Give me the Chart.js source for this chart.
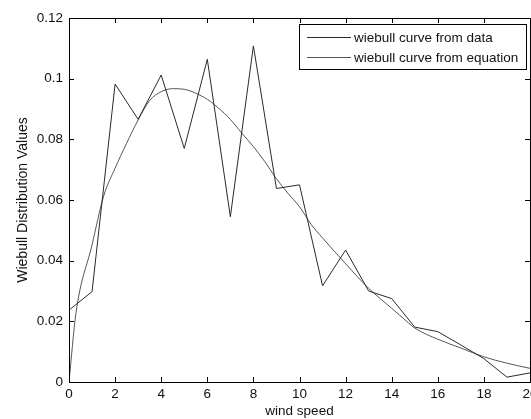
<!DOCTYPE html>
<html>
<head>
<meta charset="utf-8">
<script src="https://cdn.jsdelivr.net/npm/chart.js@4"></script>
<style>
    body { margin: 0; background: #fff; }
</style>
</head>
<body>
<canvas id="my-chart" width="531" height="419"></canvas>
<script>
// * wind speed vs weibull distribution, data curve and fitted equation

// measured curve, one value per wind speed
const speedData = [0, 1, 2, 3, 4, 5, 6, 7, 8, 9, 10, 11, 12, 13, 14, 15, 16, 17, 18, 19, 20]
const weibullData = [0.0237, 0.0298, 0.0982, 0.0866, 0.1012, 0.0770, 0.1064, 0.0545, 0.1108, 0.0638, 0.0650,
    0.0317, 0.0435, 0.0300, 0.0275, 0.0181, 0.0166, 0.0122, 0.0077, 0.0016, 0.0030]

// curve from equation
const speedEquation = [0, 0.3, 1, 1.5, 2, 2.5, 3, 3.5, 4, 4.5, 5, 5.5, 6, 6.5, 7, 7.5, 8, 8.5, 9, 9.5, 10,
    10.5, 11, 11.5, 12, 12.5, 13, 13.5, 14, 14.5, 15, 16, 17, 18, 19, 20]
const weibullEquation = [0, 0.0226, 0.0452, 0.0612, 0.0705, 0.0787, 0.0864, 0.0928, 0.0957, 0.0967, 0.0965,
    0.0952, 0.0932, 0.0902, 0.0866, 0.0820, 0.0776, 0.0726, 0.0670, 0.0622, 0.0578, 0.0520, 0.0475, 0.0432,
    0.0390, 0.0348, 0.0309, 0.0275, 0.0243, 0.0210, 0.0178, 0.0141, 0.0112, 0.0083, 0.0062, 0.0045]

const xTicks = [0, 2, 4, 6, 8, 10, 12, 14, 16, 18, 20]
const yTicks = [0, 0.02, 0.04, 0.06, 0.08, 0.1, 0.12]

const seriesNames = ['wiebull curve from data', 'wiebull curve from equation']
const seriesColors = ['#2a2a2a', '#555555']

const ctx = document.getElementById('my-chart')
const family = '"Liberation Sans", Arial, sans-serif'
const font = { family: family, size: 13.5 }
const yTitleFont = { family: family, size: 14 }

// matlab style: box around the axes, ticks pointing inside, legend box top right
const matlabBox = {
    id: 'matlabBox',
    afterDraw(chart) {
        const c = chart.ctx
        const a = chart.chartArea
        const x = chart.scales.x
        const y = chart.scales.y
        c.save()
        c.strokeStyle = '#000'
        c.lineWidth = 1
        c.strokeRect(a.left + 0.5, a.top + 0.5, a.right - a.left, a.bottom - a.top)
        c.beginPath()
        xTicks.forEach((v) => {
            const px = Math.round(x.getPixelForValue(v)) + 0.5
            c.moveTo(px, a.bottom); c.lineTo(px, a.bottom - 5)
            c.moveTo(px, a.top); c.lineTo(px, a.top + 5)
        })
        yTicks.forEach((v) => {
            const py = Math.round(y.getPixelForValue(v)) + 0.5
            c.moveTo(a.left, py); c.lineTo(a.left + 5, py)
            c.moveTo(a.right, py); c.lineTo(a.right - 5, py)
        })
        c.stroke()

        // legend
        const lx = 299, ly = 24, lw = 227, lh = 45
        c.fillStyle = '#fff'
        c.fillRect(lx, ly, lw, lh)
        c.strokeRect(lx + 0.5, ly + 0.5, lw, lh)
        c.font = font.size + 'px ' + font.family
        c.textBaseline = 'middle'
        chart.data.datasets.forEach((ds, i) => {
            const rowY = 37.5 + i * 20
            c.strokeStyle = ds.borderColor
            c.beginPath()
            c.moveTo(307, rowY); c.lineTo(351, rowY)
            c.stroke()
            c.fillStyle = '#111'
            c.fillText(ds.label, 354, rowY + 1)
        })
        c.restore()
    }
}

new Chart(ctx, {
    type: 'line',
    data: {
        datasets: [
            {
                label: seriesNames[0],
                data: speedData.map((s, i) => ({ x: s, y: weibullData[i] })),
                borderColor: seriesColors[0],
                borderWidth: 1,
                pointRadius: 0,
                tension: 0
            },
            {
                label: seriesNames[1],
                data: speedEquation.map((s, i) => ({ x: s, y: weibullEquation[i] })),
                borderColor: seriesColors[1],
                borderWidth: 1,
                pointRadius: 0,
                cubicInterpolationMode: 'monotone'
            }
        ]
    },
    options: {
        responsive: false,
        animation: false,
        layout: { padding: { top: 18, right: 1, left: 0, bottom: 0 } },
        plugins: {
            legend: { display: false },
            tooltip: { enabled: false }
        },
        scales: {
            x: {
                type: 'linear',
                min: 0,
                max: 20,
                afterBuildTicks: (scale) => { scale.ticks = xTicks.map((v) => ({ value: v })) },
                afterFit: (scale) => {
                    scale.height = 37
                    scale.paddingLeft = 0
                    scale.paddingRight = 0
                },
                grid: { display: false, drawTicks: false },
                border: { display: false },
                ticks: { color: '#111', font: font, padding: 4, maxRotation: 0 },
                title: { display: true, text: 'wind speed', color: '#111', font: font, padding: { top: 0, bottom: 0 } }
            },
            y: {
                min: 0,
                max: 0.12,
                afterBuildTicks: (scale) => { scale.ticks = yTicks.map((v) => ({ value: v })) },
                afterFit: (scale) => {
                    scale.width = 69
                    scale.paddingTop = 0
                    scale.paddingBottom = 0
                },
                grid: { display: false, drawTicks: false },
                border: { display: false },
                ticks: {
                    color: '#111',
                    font: font,
                    padding: 6,
                    callback: (v) => String(Number(v.toFixed(2)))
                },
                title: { display: true, text: 'Wiebull Distribution Values', color: '#111', font: yTitleFont, padding: { top: 15, bottom: 0 } }
            }
        }
    },
    plugins: [matlabBox]
})
</script>
</body>
</html>
